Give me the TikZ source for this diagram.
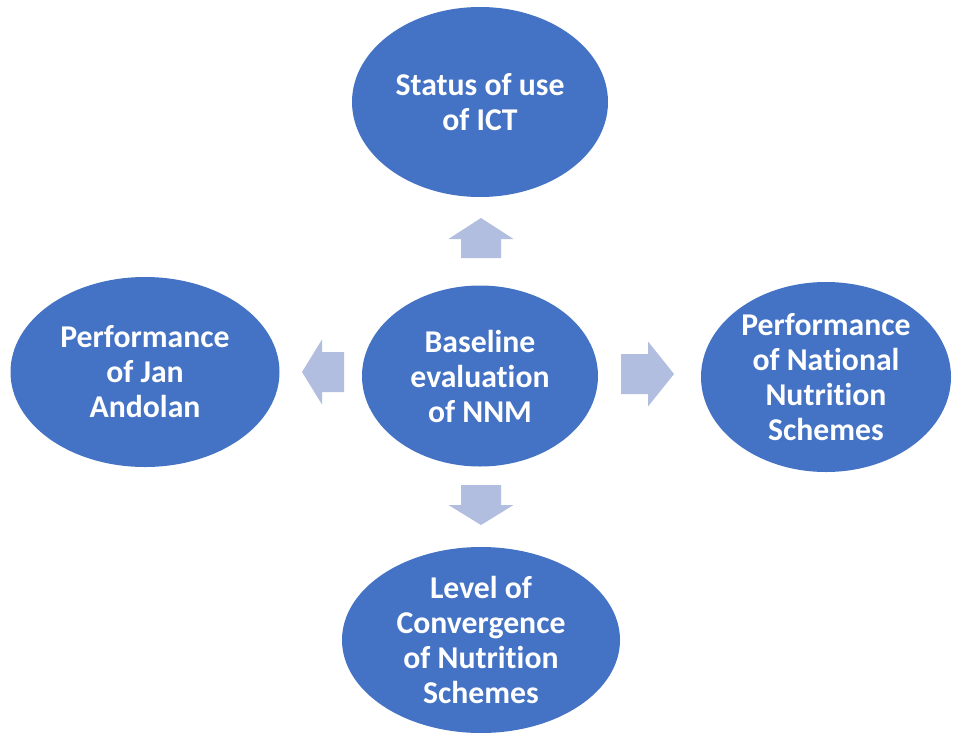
\documentclass[tikz,border=0pt]{standalone}
\usepackage{fontspec}
\setmainfont[RawFeature={-liga;-clig;-dlig;-calt}]{Carlito}
\usetikzlibrary{shapes.geometric}
\definecolor{ovalblue}{HTML}{4472C4}
\definecolor{arrowblue}{HTML}{B1BEDF}

\begin{document}
\begin{tikzpicture} [x=0.75pt, y=-0.75pt,
                     oval/.style= {shape=ellipse, fill=ovalblue,
                                   inner sep=0, text=white, align=center,
                                   font=\bfseries\fontsize{23.8}{26.25}\selectfont},
                     blockarrow/.style= {fill=arrowblue}]

\useasboundingbox[fill=white] (0,0) rectangle (953,732);

\node[oval, minimum width=192pt, minimum height=142.5pt]   (ict)  at (480,102) {Status of use\\of ICT};
\node[oval, minimum width=177pt, minimum height=135.75pt]  (base) at (480,376) {Baseline\\evaluation\\of NNM};
\node[oval, minimum width=201.75pt, minimum height=142.5pt] (jan) at (145,372) {Performance\\of Jan\\Andolan};
\node[oval, minimum width=187.5pt, minimum height=142.5pt] (nns)  at (826,377) {Performance\\of National\\Nutrition\\Schemes};
\node[oval, minimum width=208.5pt, minimum height=139.5pt] (conv) at (481,640) {Level of\\Convergence\\of Nutrition\\Schemes};

% block arrows: tail x / tail y / rotation / length / head length
\foreach \px/\py/\rot/\len/\hd in {481/258/90/40/21, 344/372/180/42/20, 621/374/0/53/26, 481/485/270/40/20}{%
    \fill[blockarrow, shift={(\px,\py)}, rotate=\rot]
        (0,-20) -- ({\len-\hd},-20) -- ({\len-\hd},-32.5) -- (\len,0)
        -- ({\len-\hd},32.5) -- ({\len-\hd},20) -- (0,20) -- cycle;}
\end{tikzpicture}
\end{document}
